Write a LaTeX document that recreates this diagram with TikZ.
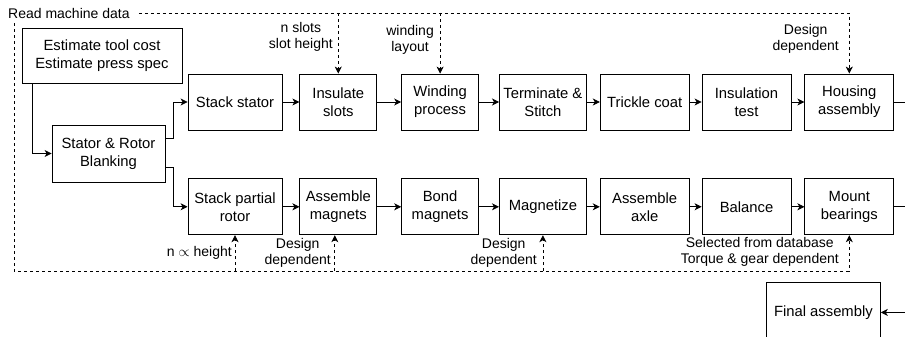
\documentclass[tikz,border=0pt]{standalone}
\usepackage{fontspec}
\setmainfont{Liberation Sans}
\usetikzlibrary{arrows.meta,positioning}

\begin{document}
\begin{tikzpicture}[x=1pt,y=-1pt,
node distance=48pt and 13pt,
stepbox/.style={draw,line width=0.8pt,align=center,inner sep=0pt,
font=\fontsize{14.8}{18}\selectfont,
minimum height=56pt,minimum width=89pt},
lbl/.style={align=center,inner sep=1pt,anchor=east,
font=\fontsize{14}{16}\selectfont},
arr/.style={-{Stealth[length=7pt,width=7pt,inset=2pt]},line width=0.8pt},
dep/.style={arr,dash pattern=on 3pt off 3pt}
]
\clip (0,0) rectangle (905,337);

\node[lbl,anchor=west] (rmd) at (7,13) {Read machine data};

\node[stepbox,minimum width=160pt,minimum height=55pt] (est) at (102,55.5)
  {Estimate tool cost\\Estimate press spec};
\node[stepbox,minimum width=113pt,minimum height=57pt] (blank) at (108.5,153.5)
  {Stator \& Rotor\\Blanking};

% stator line
\node[stepbox,minimum width=94pt] (stst) at (235,102) {Stack stator};
\node[stepbox,minimum width=77pt,right=17pt of stst] (insl) {Insulate\\slots};
\node[stepbox,minimum width=77pt,right=24pt of insl] (wind) {Winding\\process};
\node[stepbox,minimum width=87pt,right=20pt of wind] (term) {Terminate \&\\Stitch};
\node[stepbox,right=of term] (tric) {Trickle coat};
\node[stepbox,right=12pt of tric] (itst) {Insulation\\test};
\node[stepbox,right=of itst] (hous) {Housing\\assembly};

% rotor line
\node[stepbox,minimum width=94pt,below=of stst] (spr) {Stack partial\\rotor};
\node[stepbox,minimum width=77pt,below=of insl] (asmg) {Assemble\\magnets};
\node[stepbox,minimum width=77pt,below=of wind] (bond) {Bond\\magnets};
\node[stepbox,minimum width=87pt,below=of term] (magn) {Magnetize};
\node[stepbox,below=of tric] (axle) {Assemble\\axle};
\node[stepbox,below=of itst] (bal) {Balance};
\node[stepbox,below=of hous] (mtb) {Mount\\bearings};

\node[stepbox,minimum width=114pt,minimum height=60pt,anchor=north west] (fin)
  at (766,282) {Final assembly};

% labels on the data lines
\node[lbl] (lslot) at (334,36.5) {n slots\\slot height};
\node[lbl] (lwind) at (435,39.5) {winding\\layout};
\node[lbl] (lhous) at (840,39) {Design\\dependent};
\node[lbl] (lspr) at (233,253) {n $\propto$ height};
\node[lbl] (lasmg) at (332,252.5) {Design\\dependent};
\node[lbl] (lmag) at (538,252.5) {Design\\dependent};
\node[lbl] (lmtb) at (840,251.5) {Selected from database\\Torque \& gear dependent};

\coordinate (bus) at (14,271);
\coordinate (amg) at ([xshift=-3.5pt]asmg.south);
\coordinate (rmd-out) at ([xshift=8pt]rmd.east);
\coordinate (rmd-down) at ([yshift=-4pt]rmd.south);
\coordinate (out1) at ([xshift=30pt]hous.east);
\coordinate (out2) at ([xshift=30pt]mtb.east);
\coordinate (fin-in) at ([xshift=30pt]fin.east);

% process flow
\draw[arr] ([xshift=11pt]est.south west) |- (blank.west);
\draw[arr] ([yshift=15pt]blank.east) -- ++(8,0) |- (stst.west);
\draw[arr] ([yshift=-14pt]blank.east) -- ++(8,0) |- (spr.west);
\draw[arr] (stst) -- (insl);   \draw[arr] (insl) -- (wind);   \draw[arr] (wind) -- (term);
\draw[arr] (term) -- (tric);   \draw[arr] (tric) -- (itst);   \draw[arr] (itst) -- (hous);
\draw[arr] (spr) -- (asmg);    \draw[arr] (asmg) -- (bond);   \draw[arr] (bond) -- (magn);
\draw[arr] (magn) -- (axle);   \draw[arr] (axle) -- (bal);    \draw[arr] (bal) -- (mtb);
\draw[line width=0.8pt] (hous.east) -- (out1);
\draw[line width=0.8pt] (mtb.east) -- (out2);
\draw[arr] (fin-in) -- (fin.east);

% machine data
\draw[dep] (rmd-out) -| (hous.north);
\draw[dep] (rmd-out -| insl.north) -- (insl.north);
\draw[dep] (rmd-out -| wind.north) -- (wind.north);
\draw[dep] (rmd-down -| bus) -- (bus) -| (mtb.south);
\draw[dep] (bus -| spr.south) -- (spr.south);
\draw[dep] (bus -| amg) -- (amg);
\draw[dep] (bus -| magn.south) -- (magn.south);
\end{tikzpicture}
\end{document}
